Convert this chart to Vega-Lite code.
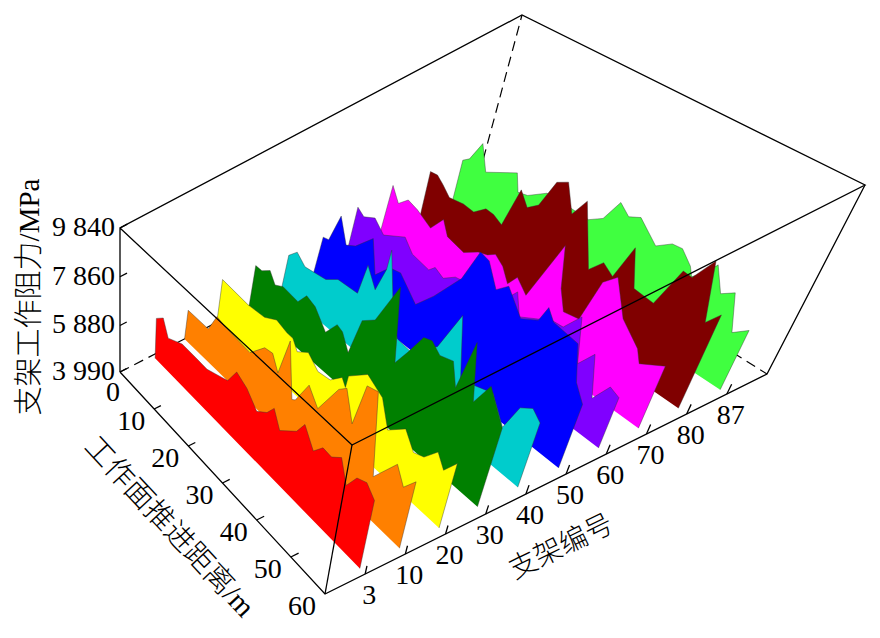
{"$schema":"https://vega.github.io/schema/vega-lite/v6.json","width":880,"height":638,"padding":0,"autosize":"none","background":"white","view":{"stroke":null},
"data":{"values":[
{"kind":"dash","seg":"a","pos":-1,"distance":0,"resistance":3990},{"kind":"dash","seg":"a","pos":10,"distance":0,"resistance":3990},{"kind":"dash","seg":"a","pos":10,"distance":60,"resistance":3990},
{"kind":"dash","seg":"b","pos":10,"distance":0,"resistance":3990},{"kind":"dash","seg":"b","pos":10,"distance":0,"resistance":9840},
{"kind":"ribbon","support":87,"distance":1.5,"resistance":3990},{"kind":"ribbon","support":87,"distance":1.5,"resistance":5720},{"kind":"ribbon","support":87,"distance":2.6,"resistance":5880},{"kind":"ribbon","support":87,"distance":4.2,"resistance":6560},{"kind":"ribbon","support":87,"distance":6,"resistance":5780},{"kind":"ribbon","support":87,"distance":11.4,"resistance":6310},{"kind":"ribbon","support":87,"distance":12.5,"resistance":5770},{"kind":"ribbon","support":87,"distance":14.3,"resistance":5850},{"kind":"ribbon","support":87,"distance":17.4,"resistance":6240},{"kind":"ribbon","support":87,"distance":21.1,"resistance":6230},{"kind":"ribbon","support":87,"distance":25.7,"resistance":6200},{"kind":"ribbon","support":87,"distance":28,"resistance":6470},{"kind":"ribbon","support":87,"distance":29.9,"resistance":7180},{"kind":"ribbon","support":87,"distance":32,"resistance":6920},{"kind":"ribbon","support":87,"distance":34,"resistance":7090},{"kind":"ribbon","support":87,"distance":38.1,"resistance":6570},{"kind":"ribbon","support":87,"distance":40.6,"resistance":6880},{"kind":"ribbon","support":87,"distance":42.5,"resistance":6910},{"kind":"ribbon","support":87,"distance":44.9,"resistance":6580},{"kind":"ribbon","support":87,"distance":45.8,"resistance":6330},{"kind":"ribbon","support":87,"distance":47.7,"resistance":6640},{"kind":"ribbon","support":87,"distance":49.1,"resistance":7030},{"kind":"ribbon","support":87,"distance":51.5,"resistance":6340},{"kind":"ribbon","support":87,"distance":53.7,"resistance":6580},{"kind":"ribbon","support":87,"distance":56.1,"resistance":5550},{"kind":"ribbon","support":87,"distance":58.6,"resistance":5860},{"kind":"ribbon","support":87,"distance":58.6,"resistance":3990},
{"kind":"ribbon","support":80,"distance":1.5,"resistance":3990},{"kind":"ribbon","support":80,"distance":1.5,"resistance":5930},{"kind":"ribbon","support":80,"distance":2.9,"resistance":5960},{"kind":"ribbon","support":80,"distance":4.3,"resistance":5780},{"kind":"ribbon","support":80,"distance":6,"resistance":5520},{"kind":"ribbon","support":80,"distance":8.8,"resistance":5600},{"kind":"ribbon","support":80,"distance":11,"resistance":5560},{"kind":"ribbon","support":80,"distance":13,"resistance":5880},{"kind":"ribbon","support":80,"distance":14.6,"resistance":5860},{"kind":"ribbon","support":80,"distance":16.5,"resistance":5710},{"kind":"ribbon","support":80,"distance":18.1,"resistance":7060},{"kind":"ribbon","support":80,"distance":20,"resistance":6660},{"kind":"ribbon","support":80,"distance":21.8,"resistance":6930},{"kind":"ribbon","support":80,"distance":23.6,"resistance":7880},{"kind":"ribbon","support":80,"distance":25.5,"resistance":8080},{"kind":"ribbon","support":80,"distance":27.8,"resistance":7250},{"kind":"ribbon","support":80,"distance":29.6,"resistance":7860},{"kind":"ribbon","support":80,"distance":33.8,"resistance":6020},{"kind":"ribbon","support":80,"distance":35.9,"resistance":6460},{"kind":"ribbon","support":80,"distance":38.2,"resistance":6240},{"kind":"ribbon","support":80,"distance":40.1,"resistance":7380},{"kind":"ribbon","support":80,"distance":42.5,"resistance":6280},{"kind":"ribbon","support":80,"distance":46.6,"resistance":6220},{"kind":"ribbon","support":80,"distance":49.2,"resistance":7530},{"kind":"ribbon","support":80,"distance":51,"resistance":7500},{"kind":"ribbon","support":80,"distance":53.6,"resistance":8290},{"kind":"ribbon","support":80,"distance":56.2,"resistance":6560},{"kind":"ribbon","support":80,"distance":58.2,"resistance":7000},{"kind":"ribbon","support":80,"distance":58.2,"resistance":3990},
{"kind":"ribbon","support":70,"distance":0,"resistance":3990},{"kind":"ribbon","support":70,"distance":0.7,"resistance":5970},{"kind":"ribbon","support":70,"distance":2.4,"resistance":5530},{"kind":"ribbon","support":70,"distance":4.1,"resistance":5840},{"kind":"ribbon","support":70,"distance":6.2,"resistance":5730},{"kind":"ribbon","support":70,"distance":9.4,"resistance":5450},{"kind":"ribbon","support":70,"distance":11.4,"resistance":5970},{"kind":"ribbon","support":70,"distance":12.9,"resistance":5540},{"kind":"ribbon","support":70,"distance":16.6,"resistance":5400},{"kind":"ribbon","support":70,"distance":19.2,"resistance":5700},{"kind":"ribbon","support":70,"distance":21,"resistance":5800},{"kind":"ribbon","support":70,"distance":22.4,"resistance":5970},{"kind":"ribbon","support":70,"distance":24.3,"resistance":5770},{"kind":"ribbon","support":70,"distance":26.1,"resistance":5370},{"kind":"ribbon","support":70,"distance":27.5,"resistance":5740},{"kind":"ribbon","support":70,"distance":30,"resistance":5400},{"kind":"ribbon","support":70,"distance":33.9,"resistance":7500},{"kind":"ribbon","support":70,"distance":35.7,"resistance":6240},{"kind":"ribbon","support":70,"distance":37.5,"resistance":5650},{"kind":"ribbon","support":70,"distance":40.6,"resistance":5740},{"kind":"ribbon","support":70,"distance":42.3,"resistance":7150},{"kind":"ribbon","support":70,"distance":44.5,"resistance":7550},{"kind":"ribbon","support":70,"distance":48,"resistance":6530},{"kind":"ribbon","support":70,"distance":52.4,"resistance":6000},{"kind":"ribbon","support":70,"distance":53.7,"resistance":5640},{"kind":"ribbon","support":70,"distance":58.2,"resistance":6030},{"kind":"ribbon","support":70,"distance":58.2,"resistance":3990},
{"kind":"ribbon","support":60,"distance":0,"resistance":3990},{"kind":"ribbon","support":60,"distance":0.6,"resistance":5810},{"kind":"ribbon","support":60,"distance":2.1,"resistance":5640},{"kind":"ribbon","support":60,"distance":4.3,"resistance":5850},{"kind":"ribbon","support":60,"distance":6.6,"resistance":5510},{"kind":"ribbon","support":60,"distance":10.8,"resistance":5920},{"kind":"ribbon","support":60,"distance":12.9,"resistance":5560},{"kind":"ribbon","support":60,"distance":16.7,"resistance":5440},{"kind":"ribbon","support":60,"distance":17.8,"resistance":5650},{"kind":"ribbon","support":60,"distance":19.8,"resistance":5500},{"kind":"ribbon","support":60,"distance":22,"resistance":5790},{"kind":"ribbon","support":60,"distance":27.3,"resistance":5940},{"kind":"ribbon","support":60,"distance":32.7,"resistance":6300},{"kind":"ribbon","support":60,"distance":34,"resistance":6620},{"kind":"ribbon","support":60,"distance":35.7,"resistance":5950},{"kind":"ribbon","support":60,"distance":38.7,"resistance":6220},{"kind":"ribbon","support":60,"distance":41.8,"resistance":6490},{"kind":"ribbon","support":60,"distance":44,"resistance":6520},{"kind":"ribbon","support":60,"distance":46.6,"resistance":7150},{"kind":"ribbon","support":60,"distance":48.8,"resistance":5800},{"kind":"ribbon","support":60,"distance":51.2,"resistance":6380},{"kind":"ribbon","support":60,"distance":53.6,"resistance":5160},{"kind":"ribbon","support":60,"distance":56,"resistance":5800},{"kind":"ribbon","support":60,"distance":58.2,"resistance":5680},{"kind":"ribbon","support":60,"distance":58.2,"resistance":3990},
{"kind":"ribbon","support":50,"distance":0,"resistance":3990},{"kind":"ribbon","support":50,"distance":0.8,"resistance":5380},{"kind":"ribbon","support":50,"distance":2,"resistance":5430},{"kind":"ribbon","support":50,"distance":3.7,"resistance":6490},{"kind":"ribbon","support":50,"distance":5.7,"resistance":5680},{"kind":"ribbon","support":50,"distance":7.6,"resistance":5870},{"kind":"ribbon","support":50,"distance":10.8,"resistance":6520},{"kind":"ribbon","support":50,"distance":12.6,"resistance":5430},{"kind":"ribbon","support":50,"distance":15.2,"resistance":5990},{"kind":"ribbon","support":50,"distance":17.5,"resistance":6080},{"kind":"ribbon","support":50,"distance":21.8,"resistance":5460},{"kind":"ribbon","support":50,"distance":24.9,"resistance":6120},{"kind":"ribbon","support":50,"distance":29.2,"resistance":7240},{"kind":"ribbon","support":50,"distance":31.3,"resistance":8420},{"kind":"ribbon","support":50,"distance":33.3,"resistance":8330},{"kind":"ribbon","support":50,"distance":36,"resistance":7630},{"kind":"ribbon","support":50,"distance":38.1,"resistance":7990},{"kind":"ribbon","support":50,"distance":42,"resistance":7300},{"kind":"ribbon","support":50,"distance":45.2,"resistance":7610},{"kind":"ribbon","support":50,"distance":46.3,"resistance":8170},{"kind":"ribbon","support":50,"distance":48,"resistance":7850},{"kind":"ribbon","support":50,"distance":53.5,"resistance":7730},{"kind":"ribbon","support":50,"distance":55.7,"resistance":6640},{"kind":"ribbon","support":50,"distance":58.2,"resistance":6170},{"kind":"ribbon","support":50,"distance":58.2,"resistance":3990},
{"kind":"ribbon","support":40,"distance":0,"resistance":3990},{"kind":"ribbon","support":40,"distance":0.6,"resistance":5320},{"kind":"ribbon","support":40,"distance":2.3,"resistance":5650},{"kind":"ribbon","support":40,"distance":4.4,"resistance":5370},{"kind":"ribbon","support":40,"distance":7.4,"resistance":5450},{"kind":"ribbon","support":40,"distance":9.2,"resistance":5500},{"kind":"ribbon","support":40,"distance":11.7,"resistance":5810},{"kind":"ribbon","support":40,"distance":16.2,"resistance":5860},{"kind":"ribbon","support":40,"distance":17.2,"resistance":7000},{"kind":"ribbon","support":40,"distance":19.6,"resistance":6400},{"kind":"ribbon","support":40,"distance":21,"resistance":7310},{"kind":"ribbon","support":40,"distance":21.2,"resistance":8030},{"kind":"ribbon","support":40,"distance":24.5,"resistance":5920},{"kind":"ribbon","support":40,"distance":26.2,"resistance":5420},{"kind":"ribbon","support":40,"distance":29.3,"resistance":5360},{"kind":"ribbon","support":40,"distance":34.4,"resistance":6140},{"kind":"ribbon","support":40,"distance":37.6,"resistance":7640},{"kind":"ribbon","support":40,"distance":40.6,"resistance":5700},{"kind":"ribbon","support":40,"distance":47.5,"resistance":6050},{"kind":"ribbon","support":40,"distance":51.3,"resistance":5300},{"kind":"ribbon","support":40,"distance":53.4,"resistance":6230},{"kind":"ribbon","support":40,"distance":55.8,"resistance":6490},{"kind":"ribbon","support":40,"distance":58,"resistance":6240},{"kind":"ribbon","support":40,"distance":58,"resistance":3990},
{"kind":"ribbon","support":30,"distance":0,"resistance":3990},{"kind":"ribbon","support":30,"distance":0.5,"resistance":5570},{"kind":"ribbon","support":30,"distance":2,"resistance":5570},{"kind":"ribbon","support":30,"distance":3.8,"resistance":5810},{"kind":"ribbon","support":30,"distance":5.3,"resistance":5460},{"kind":"ribbon","support":30,"distance":7.1,"resistance":5630},{"kind":"ribbon","support":30,"distance":10.8,"resistance":5540},{"kind":"ribbon","support":30,"distance":12.5,"resistance":5980},{"kind":"ribbon","support":30,"distance":14.7,"resistance":5850},{"kind":"ribbon","support":30,"distance":17.8,"resistance":5300},{"kind":"ribbon","support":30,"distance":20,"resistance":5860},{"kind":"ribbon","support":30,"distance":21.4,"resistance":5770},{"kind":"ribbon","support":30,"distance":23.4,"resistance":5260},{"kind":"ribbon","support":30,"distance":25,"resistance":6640},{"kind":"ribbon","support":30,"distance":27.6,"resistance":6990},{"kind":"ribbon","support":30,"distance":31.2,"resistance":8640},{"kind":"ribbon","support":30,"distance":33.5,"resistance":6160},{"kind":"ribbon","support":30,"distance":35.6,"resistance":6810},{"kind":"ribbon","support":30,"distance":38,"resistance":7640},{"kind":"ribbon","support":30,"distance":39.8,"resistance":7740},{"kind":"ribbon","support":30,"distance":42,"resistance":7480},{"kind":"ribbon","support":30,"distance":44.9,"resistance":7630},{"kind":"ribbon","support":30,"distance":46.7,"resistance":6890},{"kind":"ribbon","support":30,"distance":48.4,"resistance":8730},{"kind":"ribbon","support":30,"distance":50.9,"resistance":6890},{"kind":"ribbon","support":30,"distance":53.4,"resistance":7760},{"kind":"ribbon","support":30,"distance":57.9,"resistance":6800},{"kind":"ribbon","support":30,"distance":57.9,"resistance":3990},
{"kind":"ribbon","support":20,"distance":0,"resistance":3990},{"kind":"ribbon","support":20,"distance":0.5,"resistance":5700},{"kind":"ribbon","support":20,"distance":7,"resistance":5600},{"kind":"ribbon","support":20,"distance":11.1,"resistance":5670},{"kind":"ribbon","support":20,"distance":13.9,"resistance":5940},{"kind":"ribbon","support":20,"distance":16.6,"resistance":5810},{"kind":"ribbon","support":20,"distance":18.1,"resistance":5800},{"kind":"ribbon","support":20,"distance":19.5,"resistance":5480},{"kind":"ribbon","support":20,"distance":22,"resistance":5780},{"kind":"ribbon","support":20,"distance":24.8,"resistance":5430},{"kind":"ribbon","support":20,"distance":27.8,"resistance":5510},{"kind":"ribbon","support":20,"distance":30.3,"resistance":5930},{"kind":"ribbon","support":20,"distance":31.4,"resistance":5700},{"kind":"ribbon","support":20,"distance":31.6,"resistance":6150},{"kind":"ribbon","support":20,"distance":35.6,"resistance":6730},{"kind":"ribbon","support":20,"distance":39.7,"resistance":6390},{"kind":"ribbon","support":20,"distance":42.3,"resistance":5530},{"kind":"ribbon","support":20,"distance":46,"resistance":6050},{"kind":"ribbon","support":20,"distance":48.8,"resistance":5540},{"kind":"ribbon","support":20,"distance":51.2,"resistance":5680},{"kind":"ribbon","support":20,"distance":53.8,"resistance":6200},{"kind":"ribbon","support":20,"distance":55.9,"resistance":5800},{"kind":"ribbon","support":20,"distance":58.3,"resistance":6350},{"kind":"ribbon","support":20,"distance":58.3,"resistance":3990},
{"kind":"ribbon","support":10,"distance":0,"resistance":3990},{"kind":"ribbon","support":10,"distance":0.5,"resistance":5180},{"kind":"ribbon","support":10,"distance":5.8,"resistance":5190},{"kind":"ribbon","support":10,"distance":7.7,"resistance":5930},{"kind":"ribbon","support":10,"distance":10,"resistance":5825},{"kind":"ribbon","support":10,"distance":16.4,"resistance":5730},{"kind":"ribbon","support":10,"distance":19.7,"resistance":6370},{"kind":"ribbon","support":10,"distance":21.7,"resistance":6430},{"kind":"ribbon","support":10,"distance":23.5,"resistance":5920},{"kind":"ribbon","support":10,"distance":25.3,"resistance":7390},{"kind":"ribbon","support":10,"distance":27.6,"resistance":5460},{"kind":"ribbon","support":10,"distance":28.4,"resistance":5550},{"kind":"ribbon","support":10,"distance":31,"resistance":6470},{"kind":"ribbon","support":10,"distance":33.8,"resistance":5950},{"kind":"ribbon","support":10,"distance":37.7,"resistance":7210},{"kind":"ribbon","support":10,"distance":39.4,"resistance":7480},{"kind":"ribbon","support":10,"distance":42,"resistance":6480},{"kind":"ribbon","support":10,"distance":43.6,"resistance":8130},{"kind":"ribbon","support":10,"distance":46.2,"resistance":8250},{"kind":"ribbon","support":10,"distance":49,"resistance":5420},{"kind":"ribbon","support":10,"distance":53.6,"resistance":6500},{"kind":"ribbon","support":10,"distance":56,"resistance":5960},{"kind":"ribbon","support":10,"distance":58.4,"resistance":6480},{"kind":"ribbon","support":10,"distance":58.4,"resistance":3990},
{"kind":"ribbon","support":3,"distance":0.8,"resistance":3990},{"kind":"ribbon","support":3,"distance":0.8,"resistance":5582},{"kind":"ribbon","support":3,"distance":2.6,"resistance":5856},{"kind":"ribbon","support":3,"distance":4.1,"resistance":5272},{"kind":"ribbon","support":3,"distance":7.8,"resistance":5570},{"kind":"ribbon","support":3,"distance":11.4,"resistance":5560},{"kind":"ribbon","support":3,"distance":14.6,"resistance":5542},{"kind":"ribbon","support":3,"distance":18,"resistance":5746},{"kind":"ribbon","support":3,"distance":20,"resistance":5867},{"kind":"ribbon","support":3,"distance":22,"resistance":6486},{"kind":"ribbon","support":3,"distance":24.9,"resistance":6252},{"kind":"ribbon","support":3,"distance":27.9,"resistance":5780},{"kind":"ribbon","support":3,"distance":30.4,"resistance":6085},{"kind":"ribbon","support":3,"distance":32,"resistance":6473},{"kind":"ribbon","support":3,"distance":34,"resistance":5890},{"kind":"ribbon","support":3,"distance":38,"resistance":6422},{"kind":"ribbon","support":3,"distance":39.7,"resistance":6924},{"kind":"ribbon","support":3,"distance":42.6,"resistance":6300},{"kind":"ribbon","support":3,"distance":44.7,"resistance":6716},{"kind":"ribbon","support":3,"distance":47,"resistance":6680},{"kind":"ribbon","support":3,"distance":49.3,"resistance":6977},{"kind":"ribbon","support":3,"distance":51.5,"resistance":6210},{"kind":"ribbon","support":3,"distance":53.6,"resistance":6786},{"kind":"ribbon","support":3,"distance":56,"resistance":6940},{"kind":"ribbon","support":3,"distance":58.5,"resistance":6600},{"kind":"ribbon","support":3,"distance":58.5,"resistance":3990},
{"kind":"solid","seg":"top","pos":-1,"distance":0,"resistance":3990},{"kind":"solid","seg":"top","pos":-1,"distance":0,"resistance":9840},{"kind":"solid","seg":"top","pos":10,"distance":0,"resistance":9840},{"kind":"solid","seg":"top","pos":10,"distance":60,"resistance":9840},{"kind":"solid","seg":"top","pos":-1,"distance":60,"resistance":9840},{"kind":"solid","seg":"top","pos":-1,"distance":0,"resistance":9840},
{"kind":"solid","seg":"fl","pos":-1,"distance":0,"resistance":3990},{"kind":"solid","seg":"fl","pos":-1,"distance":60,"resistance":3990},{"kind":"solid","seg":"fl","pos":10,"distance":60,"resistance":3990},{"kind":"solid","seg":"fl","pos":10,"distance":60,"resistance":9840},
{"kind":"solid","seg":"ve","pos":-1,"distance":60,"resistance":3990},{"kind":"solid","seg":"ve","pos":-1,"distance":60,"resistance":9840},
{"kind":"solid","seg":"f1","pos":-1,"distance":0,"resistance":3990},{"kind":"solid","seg":"f1","pos":-0.8,"distance":0,"resistance":3990},
{"kind":"solid","seg":"f2","pos":-1,"distance":0,"resistance":5880},{"kind":"solid","seg":"f2","pos":-0.8,"distance":0,"resistance":5880},
{"kind":"solid","seg":"f3","pos":-1,"distance":0,"resistance":7860},{"kind":"solid","seg":"f3","pos":-0.8,"distance":0,"resistance":7860},
{"kind":"solid","seg":"f4","pos":-1,"distance":0,"resistance":9840},{"kind":"solid","seg":"f4","pos":-0.8,"distance":0,"resistance":9840},
{"kind":"solid","seg":"d1","pos":-1,"distance":10,"resistance":3990},{"kind":"solid","seg":"d1","pos":-0.8,"distance":10,"resistance":3990},
{"kind":"solid","seg":"d2","pos":-1,"distance":20,"resistance":3990},{"kind":"solid","seg":"d2","pos":-0.8,"distance":20,"resistance":3990},
{"kind":"solid","seg":"d3","pos":-1,"distance":30,"resistance":3990},{"kind":"solid","seg":"d3","pos":-0.8,"distance":30,"resistance":3990},
{"kind":"solid","seg":"d4","pos":-1,"distance":40,"resistance":3990},{"kind":"solid","seg":"d4","pos":-0.8,"distance":40,"resistance":3990},
{"kind":"solid","seg":"d5","pos":-1,"distance":50,"resistance":3990},{"kind":"solid","seg":"d5","pos":-0.8,"distance":50,"resistance":3990},
{"kind":"solid","seg":"s1","support":3,"distance":60,"resistance":3990},{"kind":"solid","seg":"s1","support":3,"distance":60,"resistance":4300},
{"kind":"solid","seg":"s2","support":10,"distance":60,"resistance":3990},{"kind":"solid","seg":"s2","support":10,"distance":60,"resistance":4300},
{"kind":"solid","seg":"s3","support":20,"distance":60,"resistance":3990},{"kind":"solid","seg":"s3","support":20,"distance":60,"resistance":4300},
{"kind":"solid","seg":"s4","support":30,"distance":60,"resistance":3990},{"kind":"solid","seg":"s4","support":30,"distance":60,"resistance":4300},
{"kind":"solid","seg":"s5","support":40,"distance":60,"resistance":3990},{"kind":"solid","seg":"s5","support":40,"distance":60,"resistance":4300},
{"kind":"solid","seg":"s6","support":50,"distance":60,"resistance":3990},{"kind":"solid","seg":"s6","support":50,"distance":60,"resistance":4300},
{"kind":"solid","seg":"s7","support":60,"distance":60,"resistance":3990},{"kind":"solid","seg":"s7","support":60,"distance":60,"resistance":4300},
{"kind":"solid","seg":"s8","support":70,"distance":60,"resistance":3990},{"kind":"solid","seg":"s8","support":70,"distance":60,"resistance":4300},
{"kind":"solid","seg":"s9","support":80,"distance":60,"resistance":3990},{"kind":"solid","seg":"s9","support":80,"distance":60,"resistance":4300},
{"kind":"solid","seg":"s10","support":87,"distance":60,"resistance":3990},{"kind":"solid","seg":"s10","support":87,"distance":60,"resistance":4300},
{"kind":"labelF","pos":-1,"distance":0,"resistance":9840,"label":"9 840"},{"kind":"labelF","pos":-1,"distance":0,"resistance":7860,"label":"7 860"},{"kind":"labelF","pos":-1,"distance":0,"resistance":5880,"label":"5 880"},{"kind":"labelF","pos":-1,"distance":0,"resistance":3990,"label":"3 990"},
{"kind":"labelZ","pos":-1,"distance":0,"resistance":3990,"label":"0"},
{"kind":"labelD","pos":-1,"distance":10,"resistance":3990,"label":"10"},{"kind":"labelD","pos":-1,"distance":20,"resistance":3990,"label":"20"},{"kind":"labelD","pos":-1,"distance":30,"resistance":3990,"label":"30"},{"kind":"labelD","pos":-1,"distance":40,"resistance":3990,"label":"40"},{"kind":"labelD","pos":-1,"distance":50,"resistance":3990,"label":"50"},{"kind":"labelD","pos":-1,"distance":60,"resistance":3990,"label":"60"},
{"kind":"labelS","support":3,"distance":60,"resistance":3990,"label":"3"},{"kind":"labelS","support":10,"distance":60,"resistance":3990,"label":"10"},{"kind":"labelS","support":20,"distance":60,"resistance":3990,"label":"20"},{"kind":"labelS","support":30,"distance":60,"resistance":3990,"label":"30"},{"kind":"labelS","support":40,"distance":60,"resistance":3990,"label":"40"},{"kind":"labelS","support":50,"distance":60,"resistance":3990,"label":"50"},{"kind":"labelS","support":60,"distance":60,"resistance":3990,"label":"60"},{"kind":"labelS","support":70,"distance":60,"resistance":3990,"label":"70"},{"kind":"labelS","support":80,"distance":60,"resistance":3990,"label":"80"},{"kind":"labelS","support":87,"distance":60,"resistance":3990,"label":"87"},
{"kind":"titleF","pos":-1,"distance":0,"resistance":6915,"label":"支架工作阻力/MPa"},
{"kind":"titleD","pos":-1,"distance":30,"resistance":3990,"label":"工作面推进距离/m"},
{"kind":"titleS","pos":4.5,"distance":60,"resistance":3990,"label":"支架编号"}
]},
"transform":[
{"window":[{"op":"row_number","as":"seq"}]},
{"calculate":"isValid(datum.support)?indexof([3,10,20,30,40,50,60,70,80,87],datum.support):datum.pos","as":"p"},
{"calculate":"(datum.p+1)/11","as":"u"},
{"calculate":"datum.distance/60","as":"v"},
{"calculate":"(datum.resistance-3990)/5850","as":"w"},
{"calculate":"(1-datum.w)*((1-datum.u)*(1-datum.v)*120+datum.u*(1-datum.v)*475+datum.u*datum.v*767+(1-datum.u)*datum.v*325)+datum.w*((1-datum.u)*(1-datum.v)*120+datum.u*(1-datum.v)*522+datum.u*datum.v*865+(1-datum.u)*datum.v*352)","as":"px"},
{"calculate":"(1-datum.w)*((1-datum.u)*(1-datum.v)*372+datum.u*(1-datum.v)*190+datum.u*datum.v*374+(1-datum.u)*datum.v*594)+datum.w*((1-datum.u)*(1-datum.v)*228+datum.u*(1-datum.v)*15+datum.u*datum.v*185+(1-datum.u)*datum.v*445)","as":"py"}
],
"encoding":{
"x":{"field":"px","type":"quantitative","scale":{"domain":[0,880],"nice":false,"zero":false},"axis":null},
"y":{"field":"py","type":"quantitative","scale":{"domain":[0,638],"nice":false,"zero":false,"reverse":true},"axis":null}
},
"layer":[
{"transform":[{"filter":"datum.kind==='dash'"}],"mark":{"type":"line","stroke":"black","strokeWidth":1.2,"strokeDash":[10,6],"clip":false},"encoding":{"detail":{"field":"seg"},"order":{"field":"seq","type":"quantitative"}}},
{"transform":[{"filter":"datum.kind==='ribbon'"}],"mark":{"type":"line","filled":true,"stroke":"#333333","strokeWidth":0.6,"strokeOpacity":0.7},"encoding":{"color":{"field":"support","type":"nominal","legend":null,"scale":{"domain":[87,80,70,60,50,40,30,20,10,3],"range":["#40ff40","#800000","#ff00ff","#8000ff","#0000ff","#00cccc","#008000","#ffff00","#ff8000","#ff0000"]}},"order":{"field":"seq","type":"quantitative"}}},
{"transform":[{"filter":"datum.kind==='solid'"}],"mark":{"type":"line","stroke":"black","strokeWidth":1.3},"encoding":{"detail":{"field":"seg"},"order":{"field":"seq","type":"quantitative"}}},
{"transform":[{"filter":"datum.kind==='labelF'"}],"mark":{"type":"text","font":"Liberation Serif","fontSize":28,"align":"right","baseline":"middle","dx":-5,"color":"black"},"encoding":{"text":{"field":"label"}}},
{"transform":[{"filter":"datum.kind==='labelZ'"}],"mark":{"type":"text","font":"Liberation Serif","fontSize":28,"align":"center","baseline":"middle","dx":-7,"dy":21,"color":"black"},"encoding":{"text":{"field":"label"}}},
{"transform":[{"filter":"datum.kind==='labelD'"}],"mark":{"type":"text","font":"Liberation Serif","fontSize":28,"align":"center","baseline":"middle","dx":-23,"dy":13,"color":"black"},"encoding":{"text":{"field":"label"}}},
{"transform":[{"filter":"datum.kind==='labelS'"}],"mark":{"type":"text","font":"Liberation Serif","fontSize":28,"align":"center","baseline":"middle","dx":4,"dy":22,"color":"black"},"encoding":{"text":{"field":"label"}}},
{"transform":[{"filter":"datum.kind==='titleF'"}],"mark":{"type":"text","font":"Liberation Serif, Noto Sans CJK SC","fontSize":29,"fontWeight":300,"align":"center","baseline":"middle","angle":-90,"dx":3,"dy":-90,"color":"black"},"encoding":{"text":{"field":"label"}}},
{"transform":[{"filter":"datum.kind==='titleD'"}],"mark":{"type":"text","font":"Liberation Serif, Noto Sans CJK SC","fontSize":29,"fontWeight":300,"align":"center","baseline":"middle","angle":47,"dx":-4,"dy":69,"color":"black"},"encoding":{"text":{"field":"label"}}},
{"transform":[{"filter":"datum.kind==='titleS'"}],"mark":{"type":"text","font":"Liberation Serif, Noto Sans CJK SC","fontSize":28,"fontWeight":300,"align":"center","baseline":"middle","angle":-26,"dx":-14,"dy":64,"color":"black"},"encoding":{"text":{"field":"label"}}}
]}
